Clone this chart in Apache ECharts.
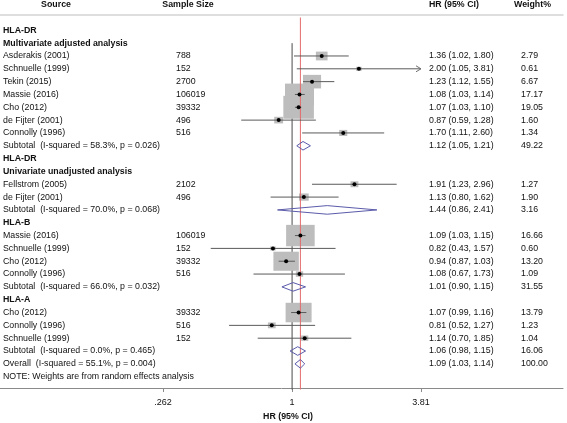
<!DOCTYPE html>
<html><head><meta charset="utf-8">
<script src="https://cdn.jsdelivr.net/npm/echarts@6/dist/echarts.min.js"></script>
<style>html,body{margin:0;padding:0;background:#fff}#c{width:567px;height:423px}</style>
</head><body><div id="c"></div>
<script>
// ---------------- data ----------------
const headers = ['Source', 'Sample Size', 'HR (95% CI)', 'Weight%'];
const rowType = ['blank','head','head','study','study','study','study','study','study','study','sub',
  'head','head','study','study','sub',
  'head','study','study','study','study','sub',
  'head','study','study','study','sub','overall','note','blank'];
const rowLabels = ['', 'HLA-DR', 'Multivariate adjusted analysis',
  'Asderakis (2001)', 'Schnuelle (1999)', 'Tekin (2015)', 'Massie (2016)', 'Cho (2012)', 'de Fijter (2001)', 'Connolly (1996)',
  'Subtotal  (I-squared = 58.3%, p = 0.026)',
  'HLA-DR', 'Univariate unadjusted analysis',
  'Fellstrom (2005)', 'de Fijter (2001)',
  'Subtotal  (I-squared = 70.0%, p = 0.068)',
  'HLA-B',
  'Massie (2016)', 'Schnuelle (1999)', 'Cho (2012)', 'Connolly (1996)',
  'Subtotal  (I-squared = 66.0%, p = 0.032)',
  'HLA-A',
  'Cho (2012)', 'Connolly (1996)', 'Schnuelle (1999)',
  'Subtotal  (I-squared = 0.0%, p = 0.465)',
  'Overall  (I-squared = 55.1%, p = 0.004)',
  'NOTE: Weights are from random effects analysis', ''];
const sampleSizes = [null,null,null, 788,152,2700,106019,39332,496,516, null,
  null,null, 2102,496, null,
  null, 106019,152,39332,516, null,
  null, 39332,516,152, null, null, null, null];
const hr = [null,null,null, 1.36,2.00,1.23,1.08,1.07,0.87,1.70, 1.12,
  null,null, 1.91,1.13, 1.44,
  null, 1.09,0.82,0.94,1.08, 1.01,
  null, 1.07,0.81,1.14, 1.06, 1.09, null, null];
const lo = [null,null,null, 1.02,1.05,1.12,1.03,1.03,0.59,1.11, 1.05,
  null,null, 1.23,0.80, 0.86,
  null, 1.03,0.43,0.87,0.67, 0.90,
  null, 0.99,0.52,0.70, 0.98, 1.03, null, null];
const hi = [null,null,null, 1.80,3.81,1.55,1.14,1.10,1.28,2.60, 1.21,
  null,null, 2.96,1.62, 2.41,
  null, 1.15,1.57,1.03,1.73, 1.15,
  null, 1.16,1.27,1.85, 1.15, 1.14, null, null];
const weights = [null,null,null, 2.79,0.61,6.67,17.17,19.05,1.60,1.34, 49.22,
  null,null, 1.27,1.90, 3.16,
  null, 16.66,0.60,13.20,1.09, 31.55,
  null, 13.79,1.23,1.04, 16.06, 100.00, null, null];
const xTickValues = [0.262, 1, 3.81];
const xTickLabels = ['.262', '1', '3.81'];
const xAxisTitle = 'HR (95% CI)';

// ---------------- build ----------------
const ln = Math.log;
const FS = 8.8;
const FONT = "'Liberation Sans', Arial, Helvetica, sans-serif";
const TXT = '#111';
const n = rowLabels.length;
const rows = rowLabels.map((_, i) => 'r' + i);

// layout: pixel positions where the outer ticks should sit
const gridLeft = 0, gridRightEdge = 563, tickLeftPx = 163, tickRightPx = 421;
const pxPerUnit = (tickRightPx - tickLeftPx) / (ln(xTickValues[2]) - ln(xTickValues[0]));
const xMin = ln(xTickValues[0]) - (tickLeftPx - gridLeft) / pxPerUnit;
const xMax = ln(xTickValues[2]) + (gridRightEdge - tickRightPx) / pxPerUnit;

const studyIdx = [], diaIdx = [];
rowType.forEach((t, i) => { if (t === 'study') studyIdx.push(i); if (t === 'sub' || t === 'overall') diaIdx.push(i); });
const overallIdx = rowType.indexOf('overall');
const firstHeadRow = 2;

const hrText = i => hr[i] == null ? '' : hr[i].toFixed(2) + ' (' + lo[i].toFixed(2) + ', ' + hi[i].toFixed(2) + ')';
const wText = i => weights[i] == null ? '' : weights[i].toFixed(2);
const ssText = i => sampleSizes[i] == null ? '' : String(sampleSizes[i]);
const srcText = i => rowType[i] === 'head' ? '{b|' + rowLabels[i] + '}' : rowLabels[i];

function colAxis(fn, x) {
  return {
    type: 'category', data: rows, inverse: true, boundaryGap: false, position: 'left', gridIndex: 0,
    axisLine: { show: false }, axisTick: { show: false }, splitLine: { show: false },
    axisLabel: {
      interval: 0, align: 'left', margin: -x, color: TXT, fontSize: FS, fontFamily: FONT,
      formatter: (v, idx) => fn(idx),
      rich: { b: { fontWeight: 'bold', fontSize: FS, fontFamily: FONT, color: TXT } }
    }
  };
}

function ciItem(params, api) {
  const r = api.value(2);
  const a = api.coord([api.value(0), r]);
  const b = api.coord([api.value(1), r]);
  const st = { stroke: '#5a5a5a', lineWidth: 1, fill: null };
  const children = [{ type: 'line', shape: { x1: a[0], y1: a[1], x2: b[0], y2: b[1] }, style: st }];
  if (api.value(1) >= ln(xTickValues[2]) - 1e-9) {
    children.push({ type: 'polyline', shape: { points: [[b[0] - 5, b[1] - 3], [b[0], b[1]], [b[0] - 5, b[1] + 3]] }, style: { stroke: '#707070', lineWidth: 1, fill: null } });
  }
  return { type: 'group', children };
}

function diamondItem(params, api) {
  const r = api.value(3);
  const L = api.coord([api.value(0), r]);
  const M = api.coord([api.value(1), r]);
  const R = api.coord([api.value(2), r]);
  const h = 4.3;
  return {
    type: 'polygon',
    shape: { points: [[L[0], L[1]], [M[0], M[1] - h], [R[0], R[1]], [M[0], M[1] + h]] },
    style: { fill: 'rgba(255,255,255,0)', stroke: '#5b5bab', lineWidth: 1 }
  };
}

const hx = [56, 188, 429, 514];
const halign = ['center', 'center', 'left', 'left'];

const option = {
  animation: false,
  backgroundColor: '#fff',
  grid: { left: gridLeft, right: 567 - gridRightEdge, top: 17.5, bottom: 33.5, containLabel: false, outerBoundsMode: 'none' },
  graphic: headers.map((h, k) => ({
    type: 'text', x: hx[k], y: 5,
    style: { text: h, align: halign[k], verticalAlign: 'middle', fill: TXT, fontSize: FS, fontWeight: 'bold', fontFamily: FONT }
  })),
  xAxis: [{
    type: 'value', min: xMin, max: xMax, position: 'bottom', offset: -1.5,
    axisLine: { show: true, onZero: false, lineStyle: { color: '#8a8a8a', width: 1 } },
    axisTick: { show: true, customValues: xTickValues.map(ln), length: 4, lineStyle: { color: '#8a8a8a' } },
    axisLabel: {
      customValues: xTickValues.map(ln), margin: 10, fontSize: 9, color: TXT, fontFamily: FONT,
      formatter: v => { const k = xTickValues.findIndex(t => Math.abs(ln(t) - v) < 1e-6); return k >= 0 ? xTickLabels[k] : ''; }
    },
    splitLine: { show: false },
    name: xAxisTitle, nameLocation: 'middle', nameGap: 23,
    nameTextStyle: { fontWeight: 'bold', fontSize: FS, color: TXT, fontFamily: FONT, padding: [0, 0, 0, 13] }
  }, {
    type: 'value', min: xMin, max: xMax, position: 'top', offset: 2.5,
    axisLine: { show: true, onZero: false, lineStyle: { color: '#d4d4d4', width: 1.5 } },
    axisTick: { show: false }, axisLabel: { show: false }, splitLine: { show: false }
  }],
  yAxis: [
    colAxis(srcText, 3),
    colAxis(ssText, 176),
    colAxis(hrText, 429),
    colAxis(wText, 521)
  ],
  series: [
    { type: 'line', silent: true, xAxisIndex: 0, yAxisIndex: 0, symbol: 'none', z: 1,
      lineStyle: { color: '#4a4a4a', width: 1 },
      data: [[0, firstHeadRow], [0, n - 1]] },
    { type: 'scatter', silent: true, xAxisIndex: 0, yAxisIndex: 0, symbol: 'rect', z: 2,
      symbolSize: d => [7 * Math.sqrt(d[2]), 5.25 * Math.sqrt(d[2])],
      itemStyle: { color: '#bdbdbd', opacity: 1 },
      data: studyIdx.map(i => [ln(hr[i]), i, weights[i]]) },
    { type: 'line', silent: true, xAxisIndex: 0, yAxisIndex: 0, symbol: 'none', z: 3,
      lineStyle: { color: '#e46a6a', width: 1 },
      data: [[ln(hr[overallIdx]), 0], [ln(hr[overallIdx]), n - 1]] },
    { type: 'custom', silent: true, xAxisIndex: 0, yAxisIndex: 0, z: 4, renderItem: ciItem,
      encode: { x: [0, 1], y: 2 },
      data: studyIdx.map(i => [ln(lo[i]), ln(hi[i]), i]) },
    { type: 'scatter', silent: true, xAxisIndex: 0, yAxisIndex: 0, symbol: 'circle', symbolSize: 4, z: 5,
      itemStyle: { color: '#000', opacity: 1 },
      data: studyIdx.map(i => [ln(hr[i]), i]) },
    { type: 'custom', silent: true, xAxisIndex: 0, yAxisIndex: 0, z: 6, renderItem: diamondItem,
      encode: { x: [0, 1, 2], y: 3 },
      data: diaIdx.map(i => [ln(lo[i]), ln(hr[i]), ln(hi[i]), i]) }
  ]
};

const chart = echarts.init(document.getElementById('c'), null, { renderer: 'canvas' });
chart.setOption(option);
</script>
</body></html>
